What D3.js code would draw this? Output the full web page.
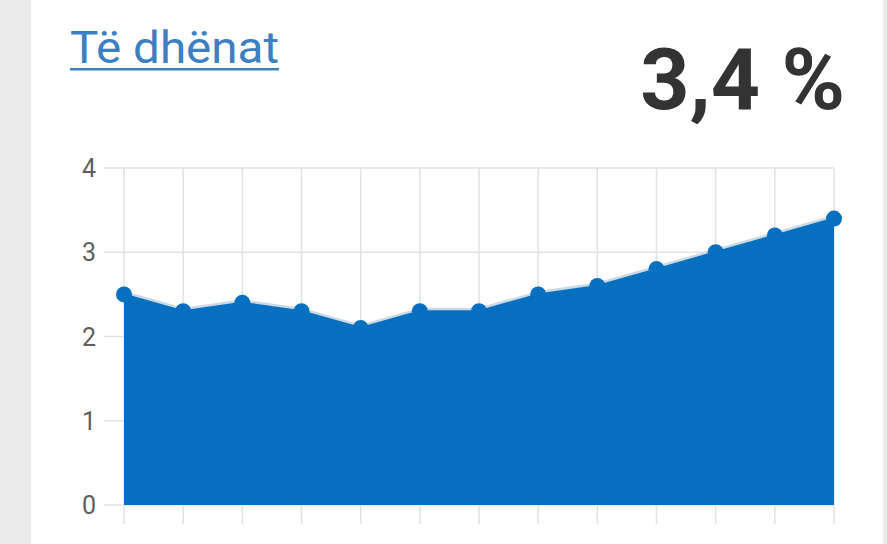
<!DOCTYPE html>
<html>
<head>
<meta charset="utf-8">
<script src="https://cdn.jsdelivr.net/npm/d3@7"></script>
<style>
  html, body { margin: 0; padding: 0; background: #ebebeb; }
  body { width: 887px; height: 544px; overflow: hidden; }
  text { font-family: Roboto, "Noto Sans", sans-serif; }
</style>
</head>
<body>
<svg id="chart" width="887" height="544"></svg>
<script>
// Chart data.
const periods = ["1", "2", "3", "4", "5", "6", "7", "8", "9", "10", "11", "12", "13"];
const values = [2.5, 2.3, 2.4, 2.3, 2.1, 2.3, 2.3, 2.5, 2.6, 2.8, 3.0, 3.2, 3.4];
const yTicks = [0, 1, 2, 3, 4];
const titleText = "Të dhënat";
const latestText = "3,4 %";

let svg = d3.select("#chart");
let width = +svg.attr("width");
let height = +svg.attr("height");

let blue = "#0670c0";
let gridColor = "#e2e2e2";

// Card background.
svg.append("rect")
    .attr("x", 31)
    .attr("y", 0)
    .attr("width", 852)
    .attr("height", height)
    .attr("fill", "#ffffff");

// Title link and latest value.
svg.append("text")
    .attr("x", 70)
    .attr("y", 63)
    .attr("font-size", 44)
    .attr("fill", "#3c80c2")
    .attr("textLength", 209)
    .attr("lengthAdjust", "spacingAndGlyphs")
    .text(titleText);
svg.append("rect")
    .attr("x", 70)
    .attr("y", 68)
    .attr("width", 209)
    .attr("height", 2.5)
    .attr("fill", "#3c80c2");

svg.append("text")
    .attr("x", 845)
    .attr("y", 109)
    .attr("text-anchor", "end")
    .attr("font-size", 86)
    .attr("font-weight", 700)
    .attr("fill", "#333333")
    .text(latestText);

// Scales.
let x = d3.scalePoint()
    .domain(periods)
    .range([124, 834]);
let y = d3.scaleLinear()
    .domain([0, 4])
    .range([505, 168]);

let graph = svg.append("g");

// Horizontal grid lines + y labels.
yTicks.forEach(t => {
    graph.append("line")
        .attr("x1", 104)
        .attr("x2", x.range()[1])
        .attr("y1", y(t))
        .attr("y2", y(t))
        .attr("stroke", gridColor)
        .attr("stroke-width", 1.5);
    graph.append("text")
        .attr("x", 96)
        .attr("y", y(t))
        .attr("dy", "0.36em")
        .attr("text-anchor", "end")
        .attr("font-size", 25)
        .attr("fill", "#5f5f5f")
        .text(t);
});

// Vertical grid lines, extending below the zero line as ticks.
periods.forEach(p => {
    graph.append("line")
        .attr("x1", x(p))
        .attr("x2", x(p))
        .attr("y1", y(4))
        .attr("y2", y(0) + 19)
        .attr("stroke", gridColor)
        .attr("stroke-width", 1.5);
});

let points = periods.map((p, i) => [x(p), y(values[i])]);

// Light halo just above the line.
graph.append("path")
    .attr("d", d3.line()(points))
    .attr("fill", "none")
    .attr("stroke", "#cad9e8")
    .attr("stroke-width", 3)
    .attr("transform", "translate(0,-2)");

// Area.
let area = d3.area()
    .x((d, i) => x(periods[i]))
    .y0(y(0))
    .y1(d => y(d));
graph.append("path")
    .attr("d", area(values))
    .attr("fill", blue);

graph.append("path")
    .attr("d", d3.line()(points))
    .attr("fill", "none")
    .attr("stroke", blue)
    .attr("stroke-width", 2);

// Points.
graph.selectAll("circle")
    .data(values)
    .enter()
    .append("circle")
    .attr("cx", (d, i) => x(periods[i]))
    .attr("cy", d => y(d))
    .attr("r", 8)
    .attr("fill", blue);
</script>
</body>
</html>
